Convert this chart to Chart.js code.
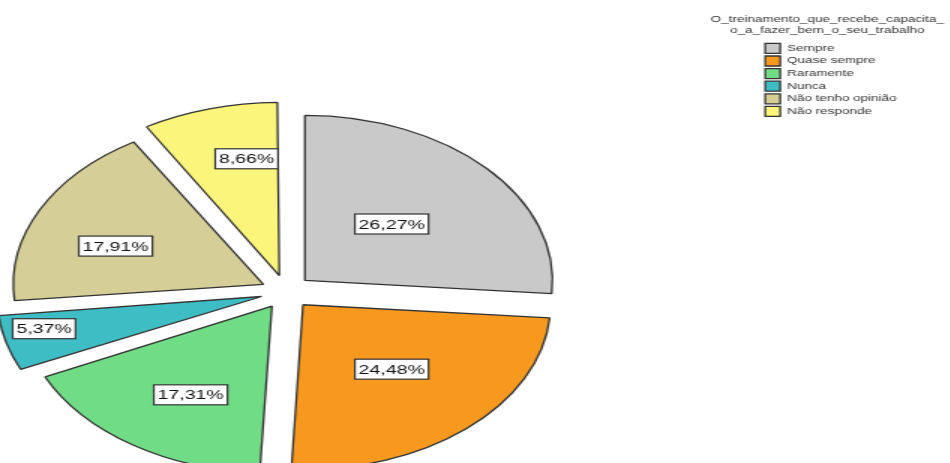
<!DOCTYPE html>
<html>
<head>
<meta charset="utf-8">
<script src="https://cdn.jsdelivr.net/npm/chart.js@4"></script>
<style>
  html, body { margin: 0; padding: 0; background: #fff; overflow: hidden; width: 950px; height: 463px; position: relative; }
  /* the reference picture is stretched sideways and cut on the left and bottom,
     so the chart is drawn narrow, widened, and shifted out of the window */
  #wrap { position: absolute; left: -189px; top: 0; width: 759.33px; height: 584px; transform: scaleX(1.5); transform-origin: 0 0; }
</style>
</head>
<body>
<div id="wrap"><canvas id="_pieGraph"></canvas></div>
<script>
const categories = ['Sempre', 'Quase sempre', 'Raramente', 'Nunca', 'Não tenho opinião', 'Não responde'];
const percentages = [26.27, 24.48, 17.31, 5.37, 17.91, 8.66];
const legendTitle = ['O_treinamento_que_recebe_capacita_', 'o_a_fazer_bem_o_seu_trabalho'];

const sliceColors = ['#c9c9c9', '#f7991f', '#70dc86', '#3fbdc5', '#d5ce96', '#fbf67b'];
// where each percentage box sits: share of the radius, nudge in degrees
const labelPlacement = [[0.49, -1.3], [0.53, -1], [0.63, -2.1], [0.9, 2.5], [0.64, -4.6], [0.72, 4.4]];

const percentLabels = {
    id: 'percentLabels',
    afterDatasetsDraw(chart) {
        const { ctx } = chart;
        const meta = chart.getDatasetMeta(0);
        ctx.save();
        ctx.font = '13px "Liberation Sans", Arial, sans-serif';
        ctx.textAlign = 'center';
        ctx.textBaseline = 'middle';
        meta.data.forEach((arc, i) => {
            const { x, y, startAngle, endAngle, outerRadius } = arc.getProps(['x', 'y', 'startAngle', 'endAngle', 'outerRadius'], true);
            // chart.js moves an arc by a quarter of its offset option
            const offset = arc.options.offset / 4;
            const [f, shift] = labelPlacement[i];
            const mid = (startAngle + endAngle) / 2 + shift * Math.PI / 180;
            const r = offset + f * outerRadius;
            const px = x + Math.cos(mid) * r;
            const py = y + Math.sin(mid) * r;
            const text = percentages[i].toFixed(2).replace('.', ',') + '%';
            const w = ctx.measureText(text).width + 5;
            const h = 20;
            ctx.fillStyle = '#fff';
            ctx.fillRect(px - w / 2, py - h / 2, w, h);
            ctx.strokeStyle = '#333';
            ctx.lineWidth = 1.2;
            ctx.strokeRect(px - w / 2, py - h / 2, w, h);
            ctx.fillStyle = '#111';
            ctx.fillText(text, px, py + 1);
        });
        ctx.restore();
    }
};

// the legend clips its own title to its box, so the two title lines are drawn here
const legendHeading = {
    id: 'legendHeading',
    afterDraw(chart) {
        const { ctx, legend } = chart;
        ctx.save();
        ctx.font = '9px "Liberation Sans", Arial, sans-serif';
        ctx.fillStyle = '#333';
        ctx.textAlign = 'center';
        ctx.textBaseline = 'middle';
        legendTitle.forEach((line, i) => {
            ctx.fillText(line, legend.left + 44, legend.top + 20 + i * 10.5);
        });
        ctx.restore();
    }
};

const data = {
    labels: categories,
    datasets: [{
        data: percentages,
        backgroundColor: sliceColors,
        borderColor: '#333',
        borderWidth: 1.3,
        offset: 68,
        hoverOffset: 0
    }]
};

const config = {
    type: 'pie',
    data: data,
    options: {
        responsive: true,
        maintainAspectRatio: false,
        animation: false,
        radius: 165,
        layout: {
            padding: { left: 0, right: 25.6, top: 0, bottom: 0 }
        },
        plugins: {
            tooltip: { enabled: false },
            legend: {
                position: 'right',
                align: 'start',
                labels: {
                    boxWidth: 10,
                    boxHeight: 10,
                    padding: 2.6,
                    color: '#333',
                    font: { family: '"Liberation Sans", Arial, sans-serif', size: 9 }
                },
                title: {
                    display: true,
                    text: '',
                    padding: { top: 10, bottom: 20 },
                    font: { family: '"Liberation Sans", Arial, sans-serif', size: 9, lineHeight: 1.2 }
                }
            }
        }
    },
    plugins: [percentLabels, legendHeading]
};

new Chart(document.getElementById('_pieGraph'), config);
</script>
</body>
</html>
